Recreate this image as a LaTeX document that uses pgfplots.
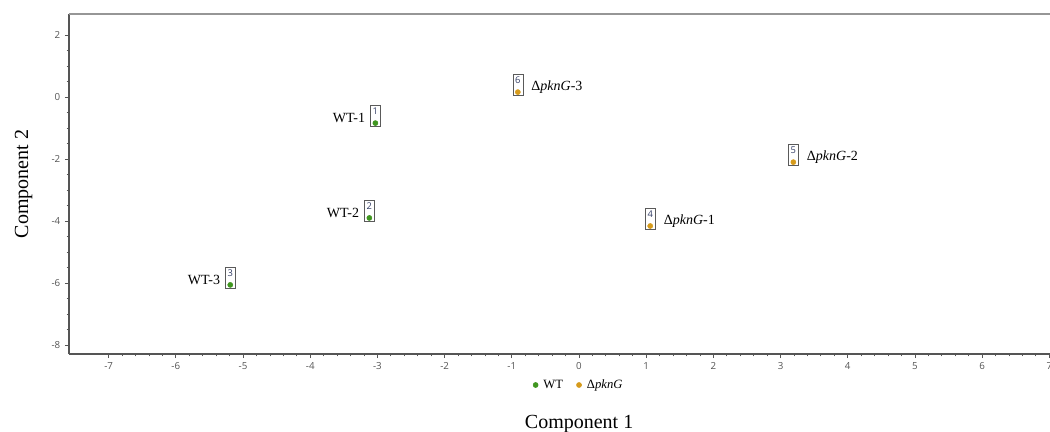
\documentclass[border=0pt]{standalone}
\usepackage{fontspec}
\setmainfont{Liberation Serif}
\newfontfamily\ticksf{Open Sans}
\usepackage{pgfplots}
\pgfplotsset{compat=1.18}
\definecolor{wtgreen}{RGB}{64,150,32}
\definecolor{kgold}{RGB}{214,155,28}
\definecolor{tickgray}{RGB}{85,85,85}
\definecolor{topgray}{RGB}{150,150,150}
\definecolor{boxgray}{RGB}{90,90,90}
\definecolor{numblue}{RGB}{50,60,100}
\begin{document}
\begin{tikzpicture}
\pgfplotsset{
  boxnodes/.style={
    point meta=explicit symbolic,
    nodes near coords={\raisebox{1.2pt}[0pt][0pt]{\pgfplotspointmeta}},
    every node near coord/.style={draw=boxgray, line width=0.5pt, fill=none,
      minimum width=7.5pt, minimum height=16pt, inner sep=0pt, anchor=south,
      yshift=-3pt, font=\ticksf\fontsize{7}{7}\selectfont, text=numblue}
  },
  leftlab/.style={only marks, mark=none, forget plot, point meta=explicit symbolic,
    nodes near coords,
    every node near coord/.style={anchor=east, xshift=-7.5pt, yshift=3.75pt,
      font=\fontsize{10.5}{12}\selectfont, text=black, inner sep=0pt}},
  rightlab/.style={only marks, mark=none, forget plot, point meta=explicit symbolic,
    nodes near coords,
    every node near coord/.style={anchor=west, xshift=10pt, yshift=3.75pt,
      font=\fontsize{10.5}{12}\selectfont, text=black, inner sep=0pt}},
}
\begin{axis}[
  scale only axis,
  width=735.75pt, height=255pt,
  xmin=-7.59, xmax=7.01, ymin=-8.29, ymax=2.68,
  axis x line*=bottom, axis y line*=left,
  axis line style={tickgray, line width=0.8pt, -},
  xtick={-7,-6,...,7}, ytick={-8,-6,...,2},
  minor x tick num=4, minor y tick num=3,
  tick align=outside,
  major tick length=3pt, minor tick length=1.8pt,
  tick style={tickgray, line width=0.6pt},
  /pgf/number format/assume math mode=true,
  ticklabel style={font=\ticksf\fontsize{7.3}{8}\selectfont, text=tickgray},
  xlabel={Component 1}, ylabel={Component 2},
  xlabel style={at={(axis description cs:0.52,0)}, anchor=center, yshift=-52.5pt,
    font=\fontsize{15}{18}\selectfont},
  ylabel style={at={(axis description cs:0,0.5)}, anchor=center, rotate=0, yshift=34pt,
    font=\fontsize{15}{18}\selectfont},
  legend style={at={(axis description cs:0.52,0)}, anchor=center, yshift=-23.25pt,
    draw=none, fill=none, font=\fontsize{9.5}{10}\selectfont,
    /tikz/every odd column/.append style={column sep=2pt},
    /tikz/every even column/.append style={column sep=8pt}},
  legend columns=2,
  legend cell align=left,
  clip=false,
]
\addplot[only marks, mark=*, mark size=1.9pt, color=wtgreen, boxnodes]
  coordinates {(-3.03,-0.84) [1] (-3.12,-3.90) [2] (-5.19,-6.06) [3]};
\addlegendentry{WT}
\addplot[only marks, mark=*, mark size=1.9pt, color=kgold, boxnodes]
  coordinates {(1.06,-4.16) [4] (3.19,-2.10) [5] (-0.91,0.16) [6]};
\addlegendentry{Δ\textit{pknG}}
\addplot[leftlab] coordinates {(-3.03,-0.84) [WT-1] (-3.12,-3.90) [WT-2] (-5.19,-6.06) [WT-3]};
\addplot[rightlab] coordinates {(1.06,-4.16) [{Δ\textit{pknG}-1}] (3.19,-2.10) [{Δ\textit{pknG}-2}] (-0.91,0.16) [{Δ\textit{pknG}-3}]};
\draw[topgray, line width=1.1pt] (rel axis cs:0,1) -- (rel axis cs:1,1);
\end{axis}
\pgfresetboundingbox
\path (-51.75pt,-58.5pt) rectangle (735.75pt,265.5pt);
\end{tikzpicture}
\end{document}
